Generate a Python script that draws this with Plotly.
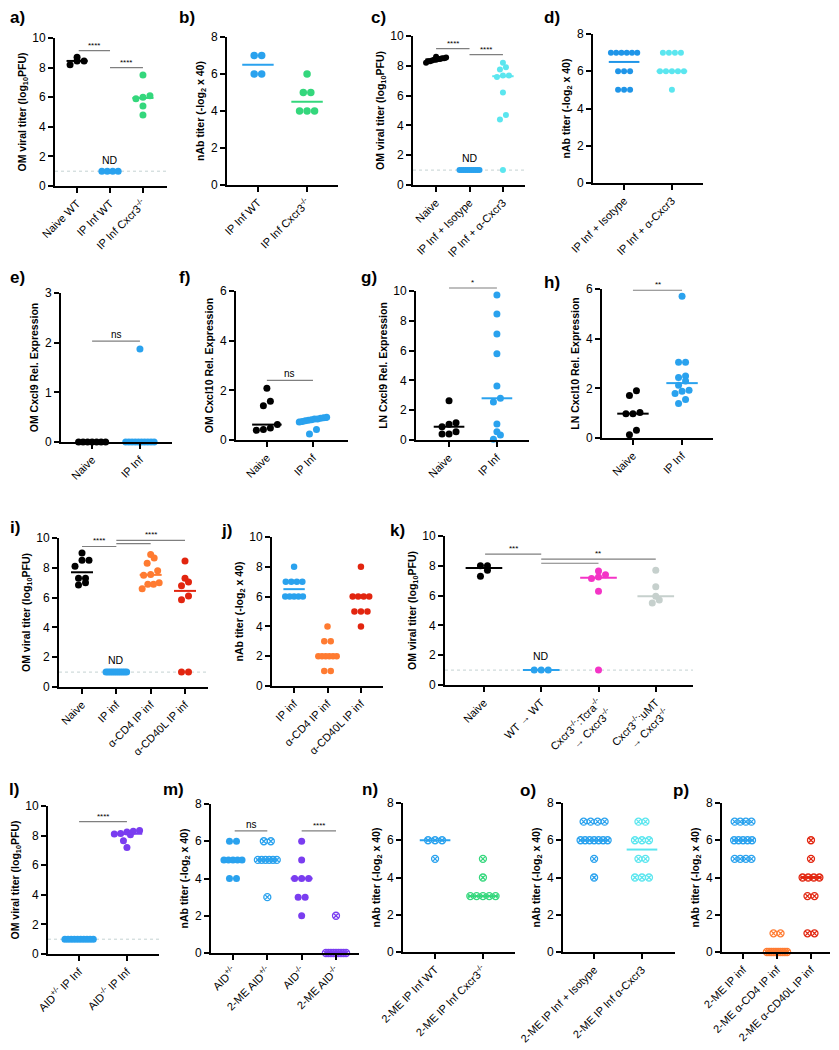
import numpy as np
import plotly.graph_objects as go

W, H = 839, 1050
FONT = "Arial, Liberation Sans, Helvetica, sans-serif"

BLACK = "#000000"
BLUE = "#2AA2EE"
GREEN = "#34D77C"
CYAN = "#5BE6EF"
ORANGE = "#FF7B31"
RED = "#E2250F"
MAGENTA = "#F434C6"
GREYGREEN = "#C6D0CD"
PURPLE = "#7A3DF0"

T_OM = "OM viral titer (log<sub>10</sub>PFU)"
T_NAB = "nAb titer (-log<sub>2</sub> x 40)"
KO = "<sup>-/-</sup>"
HET = "<sup>+/-</sup>"

# ---------------- data ----------------
a_cats = ["Naive WT", "IP Inf WT", "IP Inf Cxcr3" + KO]
a_naive = [8.7, 8.45, 8.2, 8.45]
a_ipwt = [1, 1, 1, 1]
a_ipko = [7.5, 6.1, 6.0, 5.9, 5.4, 4.8]

b_cats = ["IP Inf WT", "IP Inf Cxcr3" + KO]
b_ipwt = [7, 7, 6, 6]
b_ipko = [6, 5, 5, 4, 4, 4]

c_cats = ["Naive", "IP Inf + Isotype", "IP Inf + α-Cxcr3"]
c_naive = [8.6, 8.55, 8.5, 8.5, 8.45, 8.45, 8.4, 8.4, 8.35, 8.3, 8.3, 8.2]
c_iso = [1] * 11
c_acxcr3 = [8.2, 7.9, 7.75, 7.35, 7.35, 7.25, 6.2, 4.7, 4.4, 1.0]

d_cats = ["IP Inf + Isotype", "IP Inf + α-Cxcr3"]
d_iso = [7, 7, 7, 7, 7, 7, 6, 6, 6, 5, 5, 5]
d_acxcr3 = [7, 7, 7, 7, 6, 6, 6, 6, 6, 5]

e_cats = ["Naive", "IP Inf"]
e_naive = [0] * 7
e_ipinf = [0] * 10 + [1.87]

f_cats = ["Naive", "IP Inf"]
f_naive = [2.08, 1.56, 1.38, 0.62, 0.39, 0.42, 0.48]
f_ipinf = [0.75, 0.78, 0.72, 0.8, 0.85, 0.9, 0.92, 0.88, 0.85, 0.82, 0.42, 0.24]

g_cats = ["Naive", "IP Inf"]
g_naive = [2.64, 1.16, 1.05, 0.89, 0.56, 0.4, 0.4]
g_ipinf = [9.73, 8.46, 7.11, 5.79, 3.62, 2.8, 2.55, 1.07, 0.56, 0.34, 0.05]

h_cats = ["Naive", "IP Inf"]
h_naive = [1.9, 1.71, 1.03, 0.98, 0.98, 0.31, 0.13]
h_ipinf = [5.71, 3.05, 3.05, 2.5, 2.44, 2.3, 2.12, 1.92, 1.88, 1.79, 1.55, 1.39]

i_cats = ["Naive", "IP inf", "α-CD4 IP inf", "α-CD40L IP inf"]
i_naive = [9.0, 8.5, 8.5, 8.1, 7.3, 7.3, 7.0, 6.85]
i_ipinf = [1] * 11
i_acd4 = [8.9, 8.65, 8.3, 7.8, 7.55, 7.5, 7.0, 6.9, 6.9, 6.6]
i_acd40l = [8.45, 7.3, 7.05, 6.8, 6.1, 5.85, 1.0, 1.0]

j_cats = ["IP inf", "α-CD4 IP inf", "α-CD40L IP inf"]
j_ipinf = [8, 7, 7, 7, 7, 6, 6, 6, 6, 6]
j_acd4 = [4, 3, 3, 2, 2, 2, 2, 2, 2, 1, 1]
j_acd40l = [8, 6, 6, 6, 6, 5, 5, 5, 4]

k_cats = ["Naive", "WT → WT",
          "Cxcr3" + KO + ":Tcra" + KO + "<br>→ Cxcr3" + KO,
          "Cxcr3" + KO + ":uMT<br>→ Cxcr3" + KO]
k_naive = [8.0, 8.0, 7.7, 7.3]
k_wt = [1, 1, 1]
k_tcra = [7.65, 7.4, 7.25, 7.15, 6.3, 1.0]
k_umt = [7.7, 6.6, 5.95, 5.7, 5.5]

l_cats = ["AID" + HET + " IP Inf", "AID" + KO + " IP Inf"]
l_het = [1] * 10
l_ko = [8.35, 8.3, 8.25, 8.15, 8.1, 8.05, 7.65, 7.2]

m_cats = ["AID" + HET, "2-ME AID" + HET, "AID" + KO, "2-ME AID" + KO]
m_het = [6, 6, 5, 5, 5, 5, 5, 4, 4]
m_het_me = [6, 6, 5, 5, 5, 5, 5, 5, 3]
m_ko = [6, 5, 4, 4, 4, 3, 3, 2]
m_ko_me = [2] + [0] * 9

n_cats = ["2-ME IP Inf WT", "2-ME IP Inf Cxcr3" + KO]
n_wt = [6, 6, 6, 5]
n_ko = [5, 4, 3, 3, 3, 3, 3]

o_cats = ["2-ME IP Inf + Isotype", "2-ME IP Inf α-Cxcr3"]
o_iso = [7, 7, 7, 7, 6, 6, 6, 6, 6, 6, 6, 5, 4]
o_acxcr3 = [7, 7, 6, 6, 6, 5, 5, 4, 4, 4]

p_cats = ["2-ME IP inf", "2-ME α-CD4 IP inf", "2-ME α-CD40L IP inf"]
p_ipinf = [7, 7, 7, 7, 6, 6, 6, 6, 6, 5, 5, 5, 5]
p_acd4 = [1, 1] + [0] * 10
p_acd40l = [6, 5, 4, 4, 4, 4, 3, 3, 1, 1]

F = "circle"
X = "circle-x-open"

panels = [
    dict(L="a", box=(55, 167, 38, 186), ymax=10, ystep=2, xr=(-0.67, 2.73), cats=a_cats,
         groups=[(a_naive, BLACK, F), (a_ipwt, BLUE, F), (a_ipko, GREEN, F)], title=T_OM,
         sig=[(0.05, 1, 9.15, "****"), (1, 2, 8.0, "****")], nd=[(1, 1.25)], lod=True,
         lxy=(17, 18), ms=7),
    dict(L="b", box=(227, 338, 37, 185), ymax=8, ystep=2, xr=(-0.63, 1.63), cats=b_cats,
         groups=[(b_ipwt, BLUE, F), (b_ipko, GREEN, F)], title=T_NAB, sig=[], nd=[], lod=False,
         lxy=(187, 18), ms=7.5),
    dict(L="c", box=(413, 525, 36, 185), ymax=10, ystep=2, xr=(-0.69, 2.66), cats=c_cats,
         groups=[(c_naive, BLACK, F), (c_iso, BLUE, F), (c_acxcr3, CYAN, F)], title=T_OM,
         sig=[(0, 1, 9.15, "****"), (1, 2, 8.75, "****")], nd=[(1, 1.3)], lod=True,
         lxy=(378, 18), ms=6),
    dict(L="d", box=(593, 703, 34, 183), ymax=8, ystep=2, xr=(-0.65, 1.65), cats=d_cats,
         groups=[(d_iso, "#1F95E8", F), (d_acxcr3, CYAN, F)], title=T_NAB, sig=[], nd=[], lod=False,
         lxy=(552, 18), ms=6),
    dict(L="e", box=(61, 172, 293, 442), ymax=3, ystep=1, xr=(-0.65, 1.67), cats=e_cats,
         groups=[(e_naive, BLACK, F), (e_ipinf, BLUE, F)], title="OM Cxcl9 Rel. Expression",
         sig=[(0, 1, 2.03, "ns")], nd=[], lod=False, lxy=(17, 277), ms=7),
    dict(L="f", box=(236, 348, 291, 440), ymax=6, ystep=2, xr=(-0.67, 1.76), cats=f_cats,
         groups=[(f_naive, BLACK, F), (f_ipinf, BLUE, F)], title="OM Cxcl10 Rel. Expression",
         sig=[(0, 1, 2.4, "ns")], nd=[], lod=False, lxy=(184, 277), ms=7),
    dict(L="g", box=(416, 529, 291, 440), ymax=10, ystep=2, xr=(-0.69, 1.67), cats=g_cats,
         groups=[(g_naive, BLACK, F), (g_ipinf, BLUE, F)], title="LN Cxcl9 Rel. Expression",
         sig=[(0, 1, 10.2, "*")], nd=[], lod=False, lxy=(369, 277), ms=7),
    dict(L="h", box=(602, 713, 289, 438), ymax=6, ystep=2, xr=(-0.63, 1.63), cats=h_cats,
         groups=[(h_naive, BLACK, F), (h_ipinf, BLUE, F)], title="LN Cxcl10 Rel. Expression",
         sig=[(0, 1, 5.95, "**")], nd=[], lod=False, lxy=(552, 282), ms=7),
    dict(L="i", box=(59, 208, 538, 687), ymax=10, ystep=2, xr=(-0.67, 3.67), cats=i_cats,
         groups=[(i_naive, BLACK, F), (i_ipinf, BLUE, F), (i_acd4, ORANGE, F), (i_acd40l, RED, F)],
         title=T_OM, sig=[(0, 1, 9.43, "****"), (1, 3, 9.84, "****"), (1, 2, 9.62, "")],
         nd=[(1, 1.3)], lod=True, lxy=(15, 527), ms=7),
    dict(L="j", box=(272, 383, 537, 686), ymax=10, ystep=2, xr=(-0.66, 2.66), cats=j_cats,
         groups=[(j_ipinf, BLUE, F), (j_acd4, ORANGE, F), (j_acd40l, RED, F)], title=T_NAB,
         sig=[], nd=[], lod=False, lxy=(226, 530), ms=6.5),
    dict(L="k", box=(445, 693, 536, 685), ymax=10, ystep=2, xr=(-0.68, 3.65), cats=k_cats,
         groups=[(k_naive, BLACK, F), (k_wt, BLUE, F), (k_tcra, MAGENTA, F), (k_umt, GREYGREEN, F)],
         title=T_OM, sig=[(0.02, 1, 8.79, "***"), (1, 3, 8.45, "**"), (1, 2, 8.17, "")],
         nd=[(1, 1.4)], lod=True, lxy=(397, 530), ms=7),
    dict(L="l", box=(48, 159, 806, 954), ymax=10, ystep=2, xr=(-0.65, 1.67), cats=l_cats,
         groups=[(l_het, BLUE, F), (l_ko, PURPLE, F)], title=T_OM,
         sig=[(0, 1, 8.94, "****")], nd=[], lod=True, lxy=(14, 789), ms=7),
    dict(L="m", box=(211, 359, 804, 953), ymax=8, ystep=2, xr=(-0.64, 3.67), cats=m_cats,
         groups=[(m_het, BLUE, F), (m_het_me, BLUE, X), (m_ko, PURPLE, F), (m_ko_me, PURPLE, X)],
         title=T_NAB, sig=[(0.05, 1, 6.56, "ns"), (2, 3, 6.56, "****")], nd=[], lod=False,
         lxy=(173, 789), ms=7),
    dict(L="n", box=(403, 515, 803, 952), ymax=8, ystep=2, xr=(-0.67, 1.67), cats=n_cats,
         groups=[(n_wt, BLUE, X), (n_ko, GREEN, X)], title=T_NAB, sig=[], nd=[], lod=False,
         lxy=(370, 789), ms=7),
    dict(L="o", box=(563, 675, 803, 952), ymax=8, ystep=2, xr=(-0.65, 1.69), cats=o_cats,
         groups=[(o_iso, BLUE, X), (o_acxcr3, CYAN, X)], title=T_NAB, sig=[], nd=[], lod=False,
         lxy=(528, 790), ms=7),
    dict(L="p", box=(722, 830, 803, 952), ymax=8, ystep=2, xr=(-0.62, 2.56), cats=p_cats,
         groups=[(p_ipinf, BLUE, X), (p_acd4, ORANGE, X), (p_acd40l, RED, X)], title=T_NAB,
         sig=[], nd=[], lod=False, lxy=(681, 790), ms=7),
]


def swarm(vals, ppu, ppc, d, maxw=0.66):
    v = np.asarray(vals, float)
    order = np.argsort(v, kind="stable")
    offs = np.zeros(len(v))
    rows = []
    for i in order:
        if rows and (v[i] - v[rows[-1][0]]) * ppu < 0.9 * d:
            rows[-1].append(i)
        else:
            rows.append([i])
    for r in rows:
        k = len(r)
        step = d / ppc
        if k * step > maxw:
            step = maxw / k
        for j, i in enumerate(r):
            offs[i] = (j - (k - 1) / 2) * step
    return offs


fig = go.Figure()
layout = {}
shapes = []
annotations = []

for n, P in enumerate(panels, start=1):
    sid = "" if n == 1 else str(n)
    xa, ya = "x" + sid, "y" + sid
    left, right, ytop, y0 = P["box"]
    lo, hi = P["xr"]
    ymax = P["ymax"]
    ppu = (y0 - ytop) / ymax
    ppc = (right - left) / (hi - lo)
    ncat = len(P["cats"])

    layout["xaxis" + sid] = dict(
        domain=[left / W, right / W], anchor=ya, range=[lo, hi], automargin=False,
        tickmode="array", tickvals=list(range(ncat)), ticktext=P["cats"], tickangle=-45,
        showline=True, linecolor="black", linewidth=2, ticks="outside", ticklen=5,
        tickwidth=2, tickcolor="black", showgrid=False, zeroline=False,
        tickfont=dict(size=11, color="black", family=FONT), fixedrange=True)
    layout["yaxis" + sid] = dict(
        domain=[1 - y0 / H, 1 - ytop / H], anchor=xa, range=[0, ymax], automargin=False,
        tickmode="array", tickvals=list(np.arange(0, ymax + 0.01, P["ystep"])),
        showline=True, linecolor="black", linewidth=2, ticks="outside", ticklen=5,
        tickwidth=2, tickcolor="black", showgrid=False, zeroline=False,
        tickfont=dict(size=12, color="black", family=FONT),
        title=dict(text="<b>" + P["title"] + "</b>", standoff=4,
                   font=dict(size=10.5, color="black", family=FONT)), fixedrange=True)

    if P["lod"]:
        shapes.append(dict(type="line", xref=xa + " domain", yref=ya, x0=0, x1=1, y0=1, y1=1,
                           line=dict(color="#C4D2D2", width=1, dash="dot"), layer="below"))

    for gi, (vals, col, sym) in enumerate(P["groups"]):
        offs = swarm(vals, ppu, ppc, P["ms"])
        xs = gi + offs
        if sym == F:
            mk = dict(size=P["ms"], color=col, symbol=sym, line=dict(width=0))
        else:
            mk = dict(size=P["ms"], color=col, symbol=sym, line=dict(width=1.3, color=col))
        fig.add_trace(go.Scatter(x=xs, y=vals, mode="markers", marker=mk, xaxis=xa, yaxis=ya,
                                 cliponaxis=False, showlegend=False, hoverinfo="y"))
        med = float(np.median(vals))
        fig.add_trace(go.Scatter(x=[gi - 0.32, gi + 0.32], y=[med, med], mode="lines",
                                 line=dict(color=col, width=2), xaxis=xa, yaxis=ya,
                                 showlegend=False, hoverinfo="skip"))

    for (sx0, sx1, sy, txt) in P["sig"]:
        fx0 = (sx0 - lo) / (hi - lo)
        fx1 = (sx1 - lo) / (hi - lo)
        fy = sy / ymax
        shapes.append(dict(type="line", xref=xa + " domain", yref=ya + " domain",
                           x0=fx0, x1=fx1, y0=fy, y1=fy, line=dict(color="#7F7F7F", width=1.2)))
        if txt:
            xc = 2 if (sx1 - sx0) > 1.5 else (sx0 + sx1) / 2
            annotations.append(dict(text=txt, xref=xa + " domain", yref=ya + " domain",
                                    x=(xc - lo) / (hi - lo), y=fy, yanchor="bottom",
                                    xanchor="center", showarrow=False, yshift=-1,
                                    font=dict(size=8 if "*" in txt else 10, color="black",
                                              family=FONT)))
    for (nx, ny) in P["nd"]:
        annotations.append(dict(text="ND", xref=xa, yref=ya, x=nx, y=ny, yanchor="bottom",
                                showarrow=False, font=dict(size=10.5, color="black", family=FONT)))

    annotations.append(dict(text="<b>" + P["L"] + ")</b>", xref="paper", yref="paper",
                            x=P["lxy"][0] / W, y=1 - P["lxy"][1] / H, xanchor="center",
                            yanchor="middle", showarrow=False,
                            font=dict(size=17, color="black", family=FONT)))

fig.update_layout(template="none", width=W, height=H, margin=dict(l=0, r=0, t=0, b=0, pad=0),
                  paper_bgcolor="white", plot_bgcolor="white",
                  font=dict(family=FONT, color="black"), showlegend=False,
                  shapes=shapes, annotations=annotations, **layout)

fig.write_html("out.html", config={"displayModeBar": False},
               post_script="document.body.style.margin='0px';")
